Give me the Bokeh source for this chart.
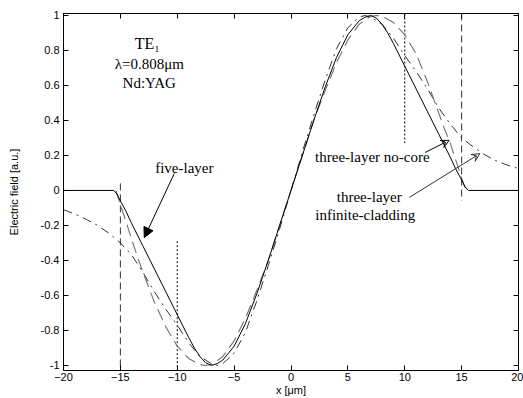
from bokeh.plotting import figure
from bokeh.models import (Range1d, LinearAxis, Label, Arrow, NormalHead, VeeHead,
                          FixedTicker)
from bokeh.embed import file_html
from bokeh.resources import INLINE

# ---- data ----
five_x = [-20, -15.6, -15.3, -15, -14.5, -14, -13, -12, -11, -10, -9, -8.5, -8, -7.5, -7, -6.5, -6,
          -5, -4, -3, -2, -1, 0, 1, 2, 3, 4, 5, 6, 6.5, 7, 7.5, 8, 8.5, 9, 10, 11, 12, 13, 14,
          14.5, 15, 15.3, 15.6, 20]
five_y = [0, 0, -0.02, -0.06, -0.12, -0.19, -0.32, -0.45, -0.58, -0.71, -0.84, -0.90, -0.95, -0.985,
          -1.0, -0.99, -0.97, -0.89, -0.76, -0.59, -0.40, -0.20, 0, 0.20, 0.40, 0.59, 0.76, 0.89,
          0.97, 0.99, 1.0, 0.985, 0.95, 0.90, 0.84, 0.71, 0.58, 0.45, 0.32, 0.19, 0.12, 0.06,
          0.02, 0, 0]

nocore_x = [-15.4, -15, -14.5, -14, -13.5, -13, -12, -11, -10, -9, -8, -7.5, -7, -6, -5, -4, -3,
            -2, -1, 0, 1, 2, 3, 4, 5, 6, 7, 7.5, 8, 9, 10, 11, 12, 13, 13.5, 14, 14.5, 15, 15.4]
nocore_y = [0, -0.08, -0.18, -0.28, -0.38, -0.47, -0.64, -0.78, -0.89, -0.96, -0.995, -1.0, -0.995,
            -0.95, -0.86, -0.73, -0.57, -0.40, -0.20, 0, 0.20, 0.40, 0.57, 0.73, 0.86, 0.95, 0.995,
            1.0, 0.995, 0.96, 0.89, 0.78, 0.62, 0.44, 0.35, 0.27, 0.17, 0.07, 0]

inf_x = [-20, -19, -18, -17, -16, -15, -14, -13, -12, -11, -10, -9, -8, -7, -6.5, -6, -5, -4, -3,
         -2, -1, 0, 1, 2, 3, 4, 5, 6, 6.5, 7, 8, 9, 10, 11, 12, 13, 14, 15, 16, 17, 18, 19, 20]
inf_y = [-0.11, -0.135, -0.165, -0.20, -0.245, -0.30, -0.37, -0.47, -0.58, -0.68, -0.77, -0.87,
         -0.95, -0.99, -1.0, -0.99, -0.93, -0.81, -0.63, -0.43, -0.22, 0, 0.22, 0.43, 0.63, 0.81,
         0.93, 0.99, 1.0, 0.99, 0.95, 0.87, 0.77, 0.68, 0.58, 0.47, 0.38, 0.30, 0.25, 0.205,
         0.17, 0.145, 0.125]

# boundary markers: (x, y_start, y_end)
dash_bounds = [(-15, 0.04, -1.03), (15, 1.011, -0.06)]
dot_bounds = [(-10, -0.29, -1.03), (10, 1.011, 0.27)]

x_ticks = [-20, -15, -10, -5, 0, 5, 10, 15, 20]
y_ticks = [-1, -0.8, -0.6, -0.4, -0.2, 0, 0.2, 0.4, 0.6, 0.8, 1]
y_tick_labels = {-1: "-1", -0.8: "-0.8", -0.6: "-0.6", -0.4: "-0.4", -0.2: "-0.2", 0: "0",
                 0.2: "0.2", 0.4: "0.4", 0.6: "0.6", 0.8: "0.8", 1: "1"}

texts = [("TE\u2081", -12.63, 0.84, "16px"), ("\u03bb=0.808\u03bcm", -12.46, 0.725, "15px"),
         ("Nd:YAG", -12.46, 0.615, "15px"), ("five-layer", -9.38, 0.13, "15px"),
         ("three-layer no-core", 7.15, 0.19, "15px"), ("three-layer", 6.88, -0.04, "15px"),
         ("infinite-cladding", 6.53, -0.14, "15px")]

arrow_five = (-10.26, 0.097, -12.9, -0.27)
arrow_nocore = (11.8, 0.217, 13.9, 0.286)
arrow_inf = (10.4, -0.04, 16.6, 0.21)

# ---- figure ----
p = figure(width=523, height=398, output_backend="svg", toolbar_location=None,
           x_range=Range1d(-20, 20), y_range=Range1d(-1.029, 1.011),
           min_border_left=63, min_border_right=5, min_border_top=13, min_border_bottom=28)
p.xgrid.visible = False
p.ygrid.visible = False
p.outline_line_color = "#000000"
p.outline_line_width = 1
p.background_fill_color = "white"
p.border_fill_color = "white"

FONT = "Liberation Sans"
for ax in (p.xaxis[0], p.yaxis[0]):
    ax.major_tick_in = 5
    ax.major_tick_out = 0
    ax.minor_tick_line_color = None
    ax.major_label_text_font = FONT
    ax.major_label_text_font_size = "11px"
    ax.major_label_text_color = "#000000"
    ax.axis_label_text_font = FONT
    ax.axis_label_text_font_size = "11px"
    ax.axis_label_text_font_style = "normal"
    ax.axis_label_text_color = "#000000"
    ax.axis_line_color = "#000000"
    ax.major_tick_line_color = "#000000"

p.xaxis[0].ticker = FixedTicker(ticks=x_ticks)
p.yaxis[0].ticker = FixedTicker(ticks=y_ticks)
p.yaxis[0].major_label_overrides = y_tick_labels
p.xaxis[0].axis_label = "x [\u03bcm]"
p.yaxis[0].axis_label = "Electric field [a.u.]"
p.xaxis[0].major_label_standoff = 2
p.xaxis[0].axis_label_standoff = 0
p.yaxis[0].major_label_standoff = 4
p.yaxis[0].axis_label_standoff = 18

top = LinearAxis(ticker=FixedTicker(ticks=x_ticks),
                 major_label_overrides={t: "" for t in x_ticks},
                 major_label_text_color=None,
                 major_tick_in=5, major_tick_out=0, minor_tick_line_color=None,
                 major_label_standoff=0)
right = LinearAxis(ticker=FixedTicker(ticks=y_ticks),
                   major_label_overrides={t: "" for t in y_ticks},
                   major_label_text_color=None,
                   major_tick_in=5, major_tick_out=0, minor_tick_line_color=None,
                   major_label_standoff=0)
p.add_layout(top, "above")
p.add_layout(right, "right")

# boundaries
for (bx, y0, y1) in dash_bounds:
    p.line([bx, bx], [y0, y1], line_color="#333333", line_width=1, line_dash="7 4")
for (bx, y0, y1) in dot_bounds:
    p.line([bx, bx], [y0, y1], line_color="#000000", line_width=1, line_dash="2 2")

# curves
p.line(inf_x, inf_y, line_color="#333333", line_width=1, line_dash="9 5 2 5")
p.line(nocore_x, nocore_y, line_color="#707070", line_width=1.1, line_dash="12 6")
p.line(five_x, five_y, line_color="#000000", line_width=1)

# texts
for (t, tx, ty, fs) in texts:
    p.add_layout(Label(x=tx, y=ty, text=t, text_font="Liberation Serif", text_font_size=fs,
                       text_align="center", text_baseline="middle", text_color="#000000"))

p.add_layout(Arrow(x_start=arrow_five[0], y_start=arrow_five[1], x_end=arrow_five[2],
                   y_end=arrow_five[3], line_color="#000000", line_width=1,
                   end=NormalHead(size=10, fill_color="#000000", line_color="#000000")))
p.add_layout(Arrow(x_start=arrow_nocore[0], y_start=arrow_nocore[1], x_end=arrow_nocore[2],
                   y_end=arrow_nocore[3], line_color="#000000", line_width=1,
                   end=VeeHead(size=8, fill_color=None, line_color="#000000", line_width=1)))
p.add_layout(Arrow(x_start=arrow_inf[0], y_start=arrow_inf[1], x_end=arrow_inf[2],
                   y_end=arrow_inf[3], line_color="#333333", line_width=1,
                   end=VeeHead(size=8, fill_color=None, line_color="#333333", line_width=1)))

open("out.html", "w").write(file_html(p, INLINE))
